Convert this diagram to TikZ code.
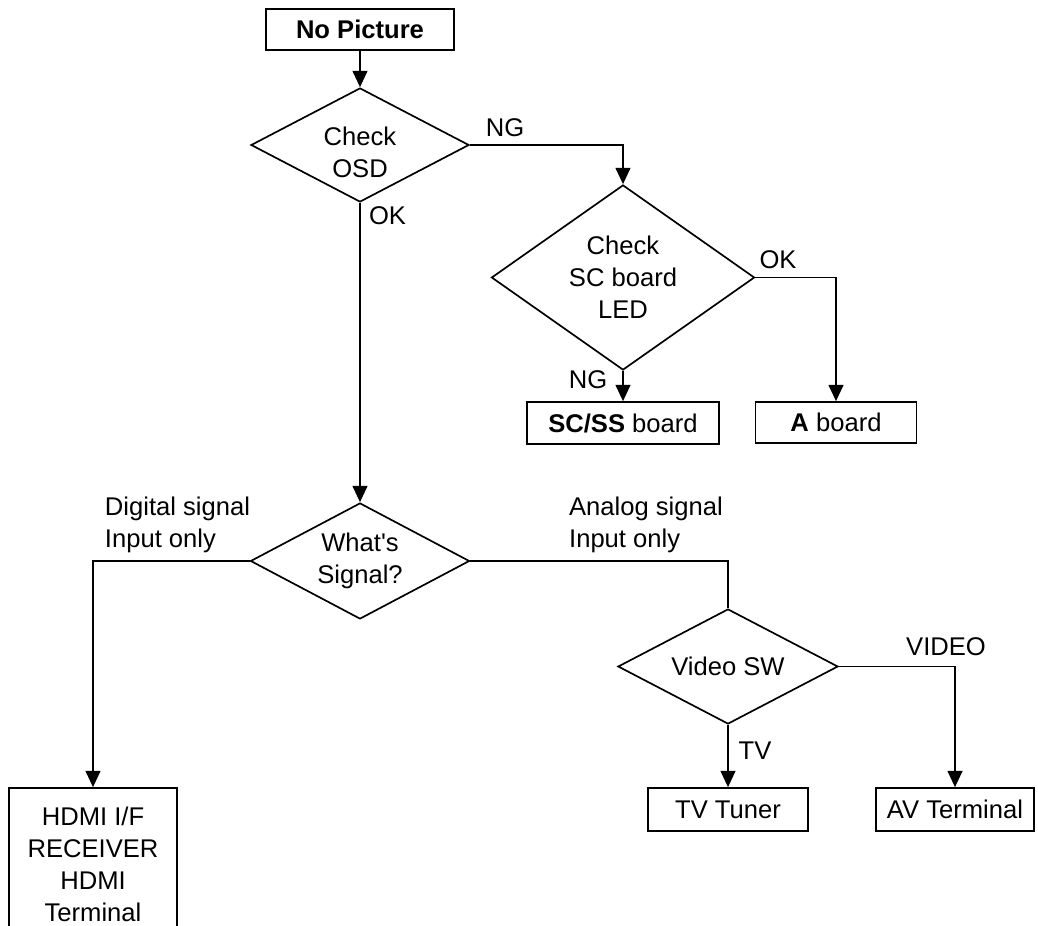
\documentclass[tikz,border=0pt]{standalone}
\usepackage{fontspec}
\setmainfont{Liberation Sans}
\usetikzlibrary{arrows.meta}
\usetikzlibrary{positioning}
\usetikzlibrary{shapes.geometric}

\tikzset{
    every node/.style={font=\fontsize{18.2}{22.8}\selectfont},
    box/.style={draw, line width=1.2pt, inner sep=0pt, align=center},
    decision/.style={draw, diamond, aspect=1.9, line width=1.2pt, inner sep=0pt, align=center},
    flow/.style={line width=1.2pt, -{Triangle[length=11.5pt,width=10.5pt]}},
    link/.style={line width=1.2pt},
    tag/.style={inner sep=0pt, align=left}
}

\begin{document}
\begin{tikzpicture}[x=0.025cm, y=-0.025cm]

            \useasboundingbox (0,0) rectangle (1038,926);

            \node[box, minimum width=4.7cm, minimum height=1.025cm] (nopic) at (360,29.5) {\textbf{No Picture}};
            \node[decision, minimum width=5.45cm, minimum height=2.85cm,
                  label={[align=center, yshift=-0.1875cm]center:{Check\\OSD}}] (osd) at (360,145) {};
            \node[decision, aspect=1.42, minimum width=6.575cm, minimum height=4.625cm] (sc) at (623,277.5) {Check\\SC board\\LED};
            \node[box, minimum width=4.8cm, minimum height=1.05cm] (scss) at (623,423) {{\bfseries SC/SS} board};
            \node[box, minimum width=4.025cm, minimum height=1.025cm] (aboard) at (836,422.5) {{\bfseries A} board};
            \node[decision, minimum width=5.475cm, minimum height=2.9cm] (ws) at (360,561) {What\textquotesingle s\\Signal?};
            \node[decision, minimum width=5.5cm, minimum height=2.875cm] (vsw) at (728,666.5) {Video SW};
            \node[box, minimum width=4.0cm, minimum height=1.075cm] (tvtuner) at (728,809.5) {TV Tuner};
            \node[box, minimum width=3.95cm, minimum height=1.075cm] (avterm) at (955,809.5) {AV Terminal};
            \node[box, minimum width=4.2cm, minimum height=3.8cm] (hdmi) at (93,864) {HDMI I/F\\RECEIVER\\HDMI\\Terminal};

            \node[tag] (okosd) at (387.5,216) {OK};
            \node[tag] (ngosd) at (505,128) {NG};
            \node[tag] (oksc) at (778,260) {OK};
            \node[tag] (ngsc) at (588,380) {NG};
            \node[tag] (digital) at (177.5,525) {Digital signal\\Input only};
            \node[tag] (analog) at (646,525) {Analog signal\\Input only};
            \node[tag] (video) at (946,647) {VIDEO};
            \node[tag] (tv) at (755,751) {TV};

            \draw[flow] (nopic) -- (osd);
            \draw[flow] (osd.east) -| (sc.north);
            \draw[flow] (osd) -- (ws);
            \draw[flow] (sc) -- (scss);
            \draw[flow] (sc.east) -| (aboard.north);
            \draw[flow] (ws.west) -| (hdmi.north);
            \draw[link] (ws.east) -| (vsw.north);
            \draw[flow] (vsw) -- (tvtuner);
            \draw[flow] (vsw.east) -| (avterm.north);

\end{tikzpicture}
\end{document}
